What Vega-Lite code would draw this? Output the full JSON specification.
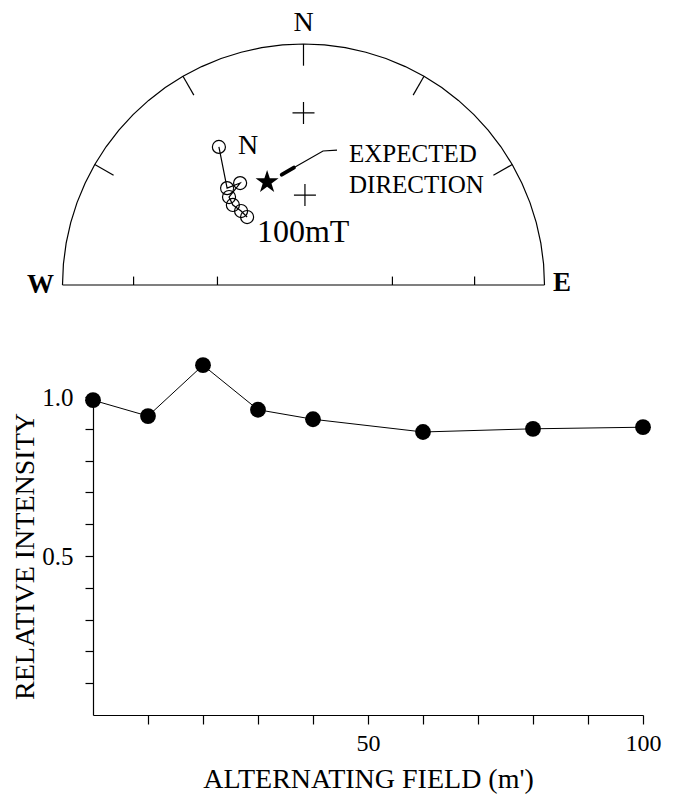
{
  "$schema": "https://vega.github.io/schema/vega-lite/v6.json",
  "width": 550,
  "height": 318,
  "autosize": {"type": "none"},
  "padding": {"left": 93, "top": 397, "right": 35, "bottom": 79},
  "background": "white",
  "config": {
    "view": {"stroke": null},
    "font": "Liberation Serif",
    "text": {"font": "Liberation Serif", "color": "black"}
  },
  "layer": [
    {
      "encoding": {
        "x": {"field": "x", "type": "quantitative", "scale": {"domain": [-0.8734, 1.4087], "nice": false, "zero": false}, "axis": null},
        "y": {"field": "y", "type": "quantitative", "scale": {"domain": [-1.7842, -0.4647], "nice": false, "zero": false}, "axis": null}
      },
      "layer": [
        {
          "data": {"values": [
            {"i": 0, "x": -1, "y": 0}, {"i": 1, "x": -0.9962, "y": 0.0872}, {"i": 2, "x": -0.9848, "y": 0.1736},
            {"i": 3, "x": -0.9659, "y": 0.2588}, {"i": 4, "x": -0.9397, "y": 0.342}, {"i": 5, "x": -0.9063, "y": 0.4226},
            {"i": 6, "x": -0.866, "y": 0.5}, {"i": 7, "x": -0.8192, "y": 0.5736}, {"i": 8, "x": -0.766, "y": 0.6428},
            {"i": 9, "x": -0.7071, "y": 0.7071}, {"i": 10, "x": -0.6428, "y": 0.766}, {"i": 11, "x": -0.5736, "y": 0.8192},
            {"i": 12, "x": -0.5, "y": 0.866}, {"i": 13, "x": -0.4226, "y": 0.9063}, {"i": 14, "x": -0.342, "y": 0.9397},
            {"i": 15, "x": -0.2588, "y": 0.9659}, {"i": 16, "x": -0.1736, "y": 0.9848}, {"i": 17, "x": -0.0872, "y": 0.9962},
            {"i": 18, "x": 0, "y": 1},
            {"i": 19, "x": 0.0872, "y": 0.9962}, {"i": 20, "x": 0.1736, "y": 0.9848}, {"i": 21, "x": 0.2588, "y": 0.9659},
            {"i": 22, "x": 0.342, "y": 0.9397}, {"i": 23, "x": 0.4226, "y": 0.9063}, {"i": 24, "x": 0.5, "y": 0.866},
            {"i": 25, "x": 0.5736, "y": 0.8192}, {"i": 26, "x": 0.6428, "y": 0.766}, {"i": 27, "x": 0.7071, "y": 0.7071},
            {"i": 28, "x": 0.766, "y": 0.6428}, {"i": 29, "x": 0.8192, "y": 0.5736}, {"i": 30, "x": 0.866, "y": 0.5},
            {"i": 31, "x": 0.9063, "y": 0.4226}, {"i": 32, "x": 0.9397, "y": 0.342}, {"i": 33, "x": 0.9659, "y": 0.2588},
            {"i": 34, "x": 0.9848, "y": 0.1736}, {"i": 35, "x": 0.9962, "y": 0.0872}, {"i": 36, "x": 1, "y": 0}
          ]},
          "mark": {"type": "line", "color": "black", "strokeWidth": 1.2},
          "encoding": {"order": {"field": "i", "type": "quantitative"}}
        },
        {
          "data": {"values": [
            {"x": -1, "y": 0, "x2": 1, "y2": 0},
            {"x": 0, "y": 1, "x2": 0, "y2": 0.91},
            {"x": -0.5, "y": 0.866, "x2": -0.455, "y2": 0.788},
            {"x": 0.5, "y": 0.866, "x2": 0.455, "y2": 0.788},
            {"x": -0.866, "y": 0.5, "x2": -0.788, "y2": 0.455},
            {"x": 0.866, "y": 0.5, "x2": 0.788, "y2": 0.455},
            {"x": -0.705, "y": 0, "x2": -0.705, "y2": 0.035},
            {"x": -0.357, "y": 0, "x2": -0.357, "y2": 0.035},
            {"x": 0.369, "y": 0, "x2": 0.369, "y2": 0.035},
            {"x": 0.71, "y": 0, "x2": 0.71, "y2": 0.035}
          ]},
          "mark": {"type": "rule", "color": "black", "strokeWidth": 1.2},
          "encoding": {"x2": {"field": "x2"}, "y2": {"field": "y2"}}
        },
        {
          "data": {"values": [{"x": 0, "y": 0.714}, {"x": 0.006, "y": 0.373}]},
          "mark": {"type": "point", "shape": "M-1,0L1,0M0,-1L0,1", "size": 484, "filled": false, "color": "black", "strokeWidth": 1.2, "opacity": 1}
        },
        {
          "data": {"values": [
            {"step": 0, "x": -0.351, "y": 0.573}, {"step": 1, "x": -0.317, "y": 0.402}, {"step": 2, "x": -0.263, "y": 0.423},
            {"step": 3, "x": -0.309, "y": 0.365}, {"step": 4, "x": -0.293, "y": 0.332}, {"step": 5, "x": -0.259, "y": 0.307},
            {"step": 6, "x": -0.234, "y": 0.282}
          ]},
          "mark": {"type": "line", "color": "black", "strokeWidth": 1.2},
          "encoding": {"order": {"field": "step", "type": "quantitative"}}
        },
        {
          "data": {"values": [
            {"step": 0, "x": -0.351, "y": 0.573}, {"step": 1, "x": -0.317, "y": 0.402}, {"step": 2, "x": -0.263, "y": 0.423},
            {"step": 3, "x": -0.309, "y": 0.365}, {"step": 4, "x": -0.293, "y": 0.332}, {"step": 5, "x": -0.259, "y": 0.307},
            {"step": 6, "x": -0.234, "y": 0.282}
          ]},
          "mark": {"type": "point", "shape": "circle", "size": 170, "filled": false, "color": "black", "strokeWidth": 1.2, "opacity": 1}
        },
        {
          "data": {"values": [{"x": -0.151, "y": 0.427}]},
          "mark": {"type": "point", "shape": "M0,-1L0.2245,-0.309L0.951,-0.309L0.3633,0.118L0.5878,0.809L0,0.382L-0.5878,0.809L-0.3633,0.118L-0.951,-0.309L-0.2245,-0.309Z", "size": 585, "filled": true, "color": "black", "opacity": 1}
        },
        {
          "data": {"values": [{"k": 0, "x": 0.139, "y": 0.56}, {"k": 1, "x": 0.081, "y": 0.556}, {"k": 2, "x": -0.095, "y": 0.455}]},
          "mark": {"type": "line", "color": "black", "strokeWidth": 1.2},
          "encoding": {"order": {"field": "k", "type": "quantitative"}}
        },
        {
          "data": {"values": [{"x": -0.09, "y": 0.458, "x2": -0.04, "y2": 0.487}]},
          "mark": {"type": "rule", "color": "black", "strokeWidth": 4, "strokeCap": "round"},
          "encoding": {"x2": {"field": "x2"}, "y2": {"field": "y2"}}
        },
        {
          "data": {"values": [{"x": 0, "y": 1.087, "label": "N"}]},
          "mark": {"type": "text", "fontSize": 28, "align": "center", "baseline": "middle"},
          "encoding": {"text": {"field": "label"}}
        },
        {
          "data": {"values": [{"x": -1.035, "y": 0, "label": "W"}]},
          "mark": {"type": "text", "fontSize": 27, "fontWeight": "bold", "align": "right", "baseline": "middle"},
          "encoding": {"text": {"field": "label"}}
        },
        {
          "data": {"values": [{"x": 1.035, "y": 0.008, "label": "E"}]},
          "mark": {"type": "text", "fontSize": 27, "fontWeight": "bold", "align": "left", "baseline": "middle"},
          "encoding": {"text": {"field": "label"}}
        },
        {
          "data": {"values": [{"x": -0.272, "y": 0.575, "label": "N"}]},
          "mark": {"type": "text", "fontSize": 28, "align": "left", "baseline": "middle"},
          "encoding": {"text": {"field": "label"}}
        },
        {
          "data": {"values": [{"x": 0.189, "y": 0.544, "label": "EXPECTED"}, {"x": 0.189, "y": 0.415, "label": "DIRECTION"}]},
          "mark": {"type": "text", "fontSize": 25, "align": "left", "baseline": "middle"},
          "encoding": {"text": {"field": "label"}}
        },
        {
          "data": {"values": [{"x": -0.193, "y": 0.22, "label": "100mT"}]},
          "mark": {"type": "text", "fontSize": 32, "align": "left", "baseline": "middle"},
          "encoding": {"text": {"field": "label"}}
        }
      ]
    },
    {
      "data": {"values": [
        {"af": 0, "intensity": 0.99},
        {"af": 10, "intensity": 0.94},
        {"af": 20, "intensity": 1.1},
        {"af": 30, "intensity": 0.96},
        {"af": 40, "intensity": 0.93},
        {"af": 60, "intensity": 0.89},
        {"af": 80, "intensity": 0.9},
        {"af": 100, "intensity": 0.905}
      ]},
      "encoding": {
        "x": {
          "field": "af", "type": "quantitative",
          "scale": {"domain": [0, 100], "nice": false},
          "title": "ALTERNATING FIELD (m')",
          "axis": {
            "orient": "bottom",
            "values": [10, 20, 30, 40, 50, 60, 70, 80, 90, 100],
            "labelExpr": "datum.value == 50 || datum.value == 100 ? datum.label : ''",
            "grid": false, "domainColor": "black", "domainWidth": 1.2, "tickColor": "black", "tickWidth": 1.2, "tickSize": 9,
            "labelFont": "Liberation Serif", "labelFontSize": 24, "labelColor": "black", "labelPadding": 7,
            "labelFlush": false, "labelOverlap": false,
            "titleFont": "Liberation Serif", "titleFontSize": 28, "titleFontWeight": "normal", "titleColor": "black", "titlePadding": 10
          }
        },
        "y": {
          "field": "intensity", "type": "quantitative",
          "scale": {"domain": [0, 1], "nice": false},
          "title": "RELATIVE INTENSITY",
          "axis": {
            "orient": "left",
            "values": [0.1, 0.2, 0.3, 0.4, 0.5, 0.6, 0.7, 0.8, 0.9, 1.0],
            "format": ".1f",
            "labelExpr": "datum.value == 0.5 || datum.value == 1 ? datum.label : ''",
            "grid": false, "domainColor": "black", "domainWidth": 1.2, "tickColor": "black", "tickWidth": 1.2, "tickSize": 8,
            "labelFont": "Liberation Serif", "labelFontSize": 25, "labelColor": "black", "labelPadding": 12,
            "labelFlush": false, "labelOverlap": false,
            "titleFont": "Liberation Serif", "titleFontSize": 28, "titleFontWeight": "normal", "titleColor": "black", "titlePadding": 2
          }
        }
      },
      "layer": [
        {"mark": {"type": "line", "color": "black", "strokeWidth": 1}},
        {"mark": {"type": "point", "shape": "circle", "filled": true, "size": 250, "color": "black", "opacity": 1}}
      ]
    }
  ],
  "resolve": {"scale": {"x": "independent", "y": "independent"}}
}
